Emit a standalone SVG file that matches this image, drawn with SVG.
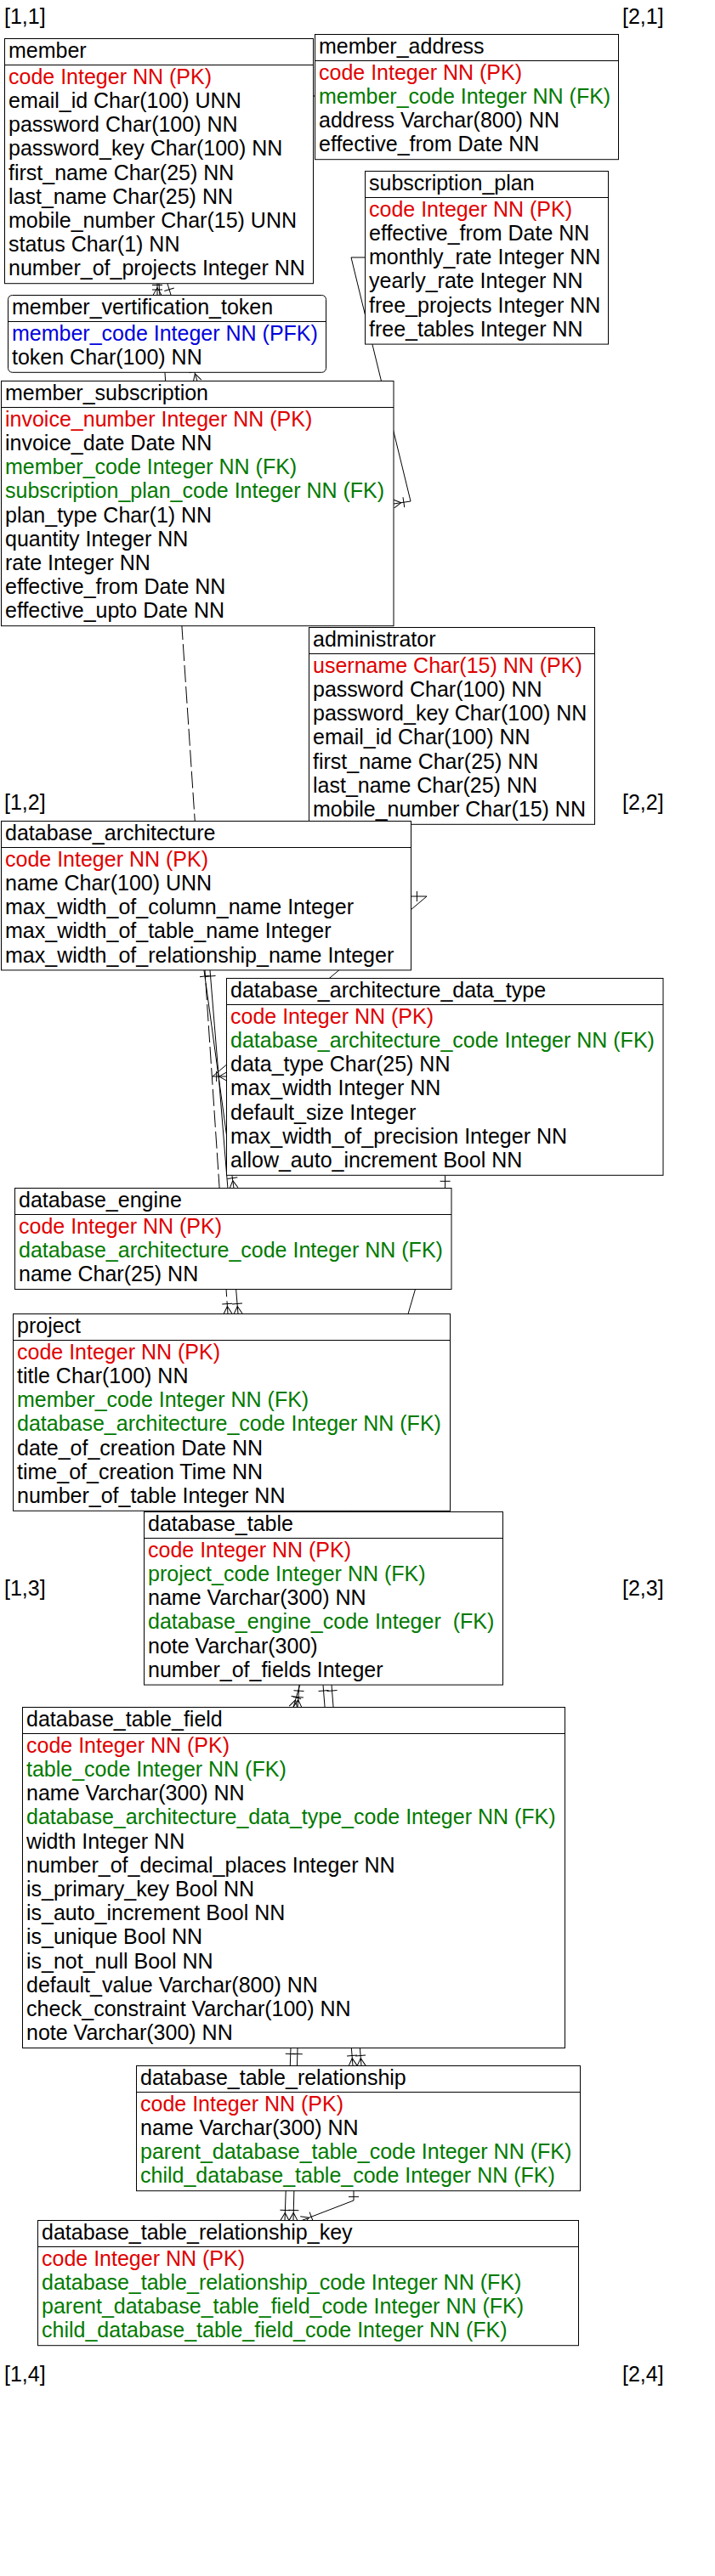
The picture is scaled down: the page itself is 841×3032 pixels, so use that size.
<svg xmlns="http://www.w3.org/2000/svg" width="841" height="3032" viewBox="0 0 841 3032">
<defs>
<style>
text{font-family:"Liberation Sans",Arial,sans-serif;font-size:25px;fill:#000}
.pk{fill:#e00000}.fk{fill:#007a00}.pfk{fill:#0000dd}
.box{fill:#fff;stroke:#000;stroke-width:1}
.sep{stroke:#000;stroke-width:1}
.c{fill:none;stroke:#000;stroke-width:1}
.d{fill:none;stroke:#000;stroke-width:1;stroke-dasharray:20 5}
</style>
<marker id="one" markerUnits="userSpaceOnUse" markerWidth="30" markerHeight="30" refX="0" refY="0" viewBox="-15 -15 30 30" orient="auto" overflow="visible">
<path d="M7,-6 L7,6" fill="none" stroke="#000" stroke-width="1"/>
</marker>
<marker id="many" markerUnits="userSpaceOnUse" markerWidth="30" markerHeight="30" refX="0" refY="0" viewBox="-15 -15 30 30" orient="auto" overflow="visible">
<path d="M-9,0 L0,-5 M-9,0 L0,5 M-12,-6 L-12,6" fill="none" stroke="#000" stroke-width="1"/>
</marker>
</defs>
<rect width="841" height="3032" fill="#fff"/>

<g id="grid-labels">
<text x="5" y="28">[1,1]</text>
<text x="732" y="28">[2,1]</text>
<text x="5" y="953">[1,2]</text>
<text x="732" y="953">[2,2]</text>
<text x="5" y="1878">[1,3]</text>
<text x="732" y="1878">[2,3]</text>
<text x="5" y="2803">[1,4]</text>
<text x="732" y="2803">[2,4]</text>
</g>

<g id="connectors">
<path class="c" d="M368.6,113 L370.2,113"/>
<path class="c" d="M429,303 L413,303 L483,590 L463,593" marker-end="url(#many)"/>
<path class="c" d="M185,334 L185,347.5" marker-start="url(#one)" marker-end="url(#many)"/>
<path class="c" d="M197,334 L232,448.5" marker-start="url(#one)" marker-end="url(#many)"/>
<path class="d" d="M187,334 L268,1546.5" marker-end="url(#many)"/>
<path class="c" d="M483.4,1055 L502,1055 L250,1267 L266.6,1267" marker-start="url(#one)" marker-end="url(#many)"/>
<path class="c" d="M240,1142 L275,1398.5" marker-start="url(#one)" marker-end="url(#many)"/>
<path class="c" d="M247,1142 L280,1546.5" marker-start="url(#one)" marker-end="url(#many)"/>
<path class="c" d="M523.6,1383.3 L523.6,1397 L345,2009.5" marker-start="url(#one)" marker-end="url(#many)"/>
<path class="c" d="M352,1983.1 L350,2009.5" marker-start="url(#one)" marker-end="url(#many)"/>
<path class="c" d="M380,1983.1 L415,2431.5" marker-start="url(#one)" marker-end="url(#many)"/>
<path class="c" d="M390,1983.1 L425,2431.5" marker-start="url(#one)" marker-end="url(#many)"/>
<path class="c" d="M342,2410.5 L335,2613.5" marker-start="url(#one)" marker-end="url(#many)"/>
<path class="c" d="M350,2410.5 L345,2613.5" marker-start="url(#one)" marker-end="url(#many)"/>
<path class="c" d="M416,2578.7 L416,2590 L355,2613.5" marker-start="url(#one)" marker-end="url(#many)"/>
</g>

<g id="member">
<rect class="box" x="5.5" y="45.5" width="363" height="288.2"/>
<line class="sep" x1="5.5" y1="76.5" x2="368.5" y2="76.5"/>
<text x="10" y="68.3">member</text>
<text x="10" y="98.8" class="pk">code Integer NN (PK)</text>
<text x="10" y="127">email_id Char(100) UNN</text>
<text x="10" y="155.2">password Char(100) NN</text>
<text x="10" y="183.4">password_key Char(100) NN</text>
<text x="10" y="211.6">first_name Char(25) NN</text>
<text x="10" y="239.8">last_name Char(25) NN</text>
<text x="10" y="268">mobile_number Char(15) UNN</text>
<text x="10" y="296.2">status Char(1) NN</text>
<text x="10" y="324.4">number_of_projects Integer NN</text>
</g>

<g id="member_address">
<rect class="box" x="370.5" y="40.5" width="357" height="147.2"/>
<line class="sep" x1="370.5" y1="71.5" x2="727.5" y2="71.5"/>
<text x="375" y="63.3">member_address</text>
<text x="375" y="93.8" class="pk">code Integer NN (PK)</text>
<text x="375" y="122" class="fk">member_code Integer NN (FK)</text>
<text x="375" y="150.2">address Varchar(800) NN</text>
<text x="375" y="178.4">effective_from Date NN</text>
</g>

<g id="subscription_plan">
<rect class="box" x="429.5" y="201.5" width="286" height="203.6"/>
<line class="sep" x1="429.5" y1="232.5" x2="715.5" y2="232.5"/>
<text x="434" y="224.3">subscription_plan</text>
<text x="434" y="254.8" class="pk">code Integer NN (PK)</text>
<text x="434" y="283">effective_from Date NN</text>
<text x="434" y="311.2">monthly_rate Integer NN</text>
<text x="434" y="339.4">yearly_rate Integer NN</text>
<text x="434" y="367.6">free_projects Integer NN</text>
<text x="434" y="395.8">free_tables Integer NN</text>
</g>

<g id="member_vertification_token">
<rect class="box" x="9.5" y="347.5" width="374" height="90.8" rx="5" ry="5"/>
<line class="sep" x1="9.5" y1="378.5" x2="383.5" y2="378.5"/>
<text x="14" y="370.3">member_vertification_token</text>
<text x="14" y="400.8" class="pfk">member_code Integer NN (PFK)</text>
<text x="14" y="429">token Char(100) NN</text>
</g>

<g id="member_subscription">
<rect class="box" x="1.5" y="448.5" width="461.5" height="288.2"/>
<line class="sep" x1="1.5" y1="479.5" x2="463" y2="479.5"/>
<text x="6" y="471.3">member_subscription</text>
<text x="6" y="501.8" class="pk">invoice_number Integer NN (PK)</text>
<text x="6" y="530">invoice_date Date NN</text>
<text x="6" y="558.2" class="fk">member_code Integer NN (FK)</text>
<text x="6" y="586.4" class="fk">subscription_plan_code Integer NN (FK)</text>
<text x="6" y="614.6">plan_type Char(1) NN</text>
<text x="6" y="642.8">quantity Integer NN</text>
<text x="6" y="671">rate Integer NN</text>
<text x="6" y="699.2">effective_from Date NN</text>
<text x="6" y="727.4">effective_upto Date NN</text>
</g>

<g id="administrator">
<rect class="box" x="363.5" y="738.5" width="336" height="231.8"/>
<line class="sep" x1="363.5" y1="769.5" x2="699.5" y2="769.5"/>
<text x="368" y="761.3">administrator</text>
<text x="368" y="791.8" class="pk">username Char(15) NN (PK)</text>
<text x="368" y="820">password Char(100) NN</text>
<text x="368" y="848.2">password_key Char(100) NN</text>
<text x="368" y="876.4">email_id Char(100) NN</text>
<text x="368" y="904.6">first_name Char(25) NN</text>
<text x="368" y="932.8">last_name Char(25) NN</text>
<text x="368" y="961">mobile_number Char(15) NN</text>
</g>

<g id="database_architecture">
<rect class="box" x="1.5" y="966.5" width="482" height="175.4"/>
<line class="sep" x1="1.5" y1="997.5" x2="483.5" y2="997.5"/>
<text x="6" y="989.3">database_architecture</text>
<text x="6" y="1019.8" class="pk">code Integer NN (PK)</text>
<text x="6" y="1048">name Char(100) UNN</text>
<text x="6" y="1076.2">max_width_of_column_name Integer</text>
<text x="6" y="1104.4">max_width_of_table_name Integer</text>
<text x="6" y="1132.6">max_width_of_relationship_name Integer</text>
</g>

<g id="database_architecture_data_type">
<rect class="box" x="266.5" y="1151.5" width="513.5" height="231.8"/>
<line class="sep" x1="266.5" y1="1182.5" x2="780" y2="1182.5"/>
<text x="271" y="1174.3">database_architecture_data_type</text>
<text x="271" y="1204.8" class="pk">code Integer NN (PK)</text>
<text x="271" y="1233" class="fk">database_architecture_code Integer NN (FK)</text>
<text x="271" y="1261.2">data_type Char(25) NN</text>
<text x="271" y="1289.4">max_width Integer NN</text>
<text x="271" y="1317.6">default_size Integer</text>
<text x="271" y="1345.8">max_width_of_precision Integer NN</text>
<text x="271" y="1374">allow_auto_increment Bool NN</text>
</g>

<g id="database_engine">
<rect class="box" x="17.5" y="1398.5" width="513.5" height="119"/>
<line class="sep" x1="17.5" y1="1429.5" x2="531" y2="1429.5"/>
<text x="22" y="1421.3">database_engine</text>
<text x="22" y="1451.8" class="pk">code Integer NN (PK)</text>
<text x="22" y="1480" class="fk">database_architecture_code Integer NN (FK)</text>
<text x="22" y="1508.2">name Char(25) NN</text>
</g>

<g id="project">
<rect class="box" x="15.5" y="1546.5" width="514" height="231.8"/>
<line class="sep" x1="15.5" y1="1577.5" x2="529.5" y2="1577.5"/>
<text x="20" y="1569.3">project</text>
<text x="20" y="1599.8" class="pk">code Integer NN (PK)</text>
<text x="20" y="1628">title Char(100) NN</text>
<text x="20" y="1656.2" class="fk">member_code Integer NN (FK)</text>
<text x="20" y="1684.4" class="fk">database_architecture_code Integer NN (FK)</text>
<text x="20" y="1712.6">date_of_creation Date NN</text>
<text x="20" y="1740.8">time_of_creation Time NN</text>
<text x="20" y="1769">number_of_table Integer NN</text>
</g>

<g id="database_table">
<rect class="box" x="169.5" y="1779.5" width="422" height="203.6"/>
<line class="sep" x1="169.5" y1="1810.5" x2="591.5" y2="1810.5"/>
<text x="174" y="1802.3">database_table</text>
<text x="174" y="1832.8" class="pk">code Integer NN (PK)</text>
<text x="174" y="1861" class="fk">project_code Integer NN (FK)</text>
<text x="174" y="1889.2">name Varchar(300) NN</text>
<text x="174" y="1917.4" class="fk" style="white-space:pre" xml:space="preserve">database_engine_code Integer  (FK)</text>
<text x="174" y="1945.6">note Varchar(300)</text>
<text x="174" y="1973.8">number_of_fields Integer</text>
</g>

<g id="database_table_field">
<rect class="box" x="26.5" y="2009.5" width="638" height="401"/>
<line class="sep" x1="26.5" y1="2040.5" x2="664.5" y2="2040.5"/>
<text x="31" y="2032.3">database_table_field</text>
<text x="31" y="2062.8" class="pk">code Integer NN (PK)</text>
<text x="31" y="2091" class="fk">table_code Integer NN (FK)</text>
<text x="31" y="2119.2">name Varchar(300) NN</text>
<text x="31" y="2147.4" class="fk">database_architecture_data_type_code Integer NN (FK)</text>
<text x="31" y="2175.6">width Integer NN</text>
<text x="31" y="2203.8">number_of_decimal_places Integer NN</text>
<text x="31" y="2232">is_primary_key Bool NN</text>
<text x="31" y="2260.2">is_auto_increment Bool NN</text>
<text x="31" y="2288.4">is_unique Bool NN</text>
<text x="31" y="2316.6">is_not_null Bool NN</text>
<text x="31" y="2344.8">default_value Varchar(800) NN</text>
<text x="31" y="2373">check_constraint Varchar(100) NN</text>
<text x="31" y="2401.2">note Varchar(300) NN</text>
</g>

<g id="database_table_relationship">
<rect class="box" x="160.5" y="2431.5" width="522" height="147.2"/>
<line class="sep" x1="160.5" y1="2462.5" x2="682.5" y2="2462.5"/>
<text x="165" y="2454.3">database_table_relationship</text>
<text x="165" y="2484.8" class="pk">code Integer NN (PK)</text>
<text x="165" y="2513">name Varchar(300) NN</text>
<text x="165" y="2541.2" class="fk">parent_database_table_code Integer NN (FK)</text>
<text x="165" y="2569.4" class="fk">child_database_table_code Integer NN (FK)</text>
</g>

<g id="database_table_relationship_key">
<rect class="box" x="44.5" y="2613.5" width="636" height="147.2"/>
<line class="sep" x1="44.5" y1="2644.5" x2="680.5" y2="2644.5"/>
<text x="49" y="2636.3">database_table_relationship_key</text>
<text x="49" y="2666.8" class="pk">code Integer NN (PK)</text>
<text x="49" y="2695" class="fk">database_table_relationship_code Integer NN (FK)</text>
<text x="49" y="2723.2" class="fk">parent_database_table_field_code Integer NN (FK)</text>
<text x="49" y="2751.4" class="fk">child_database_table_field_code Integer NN (FK)</text>
</g>
</svg>
